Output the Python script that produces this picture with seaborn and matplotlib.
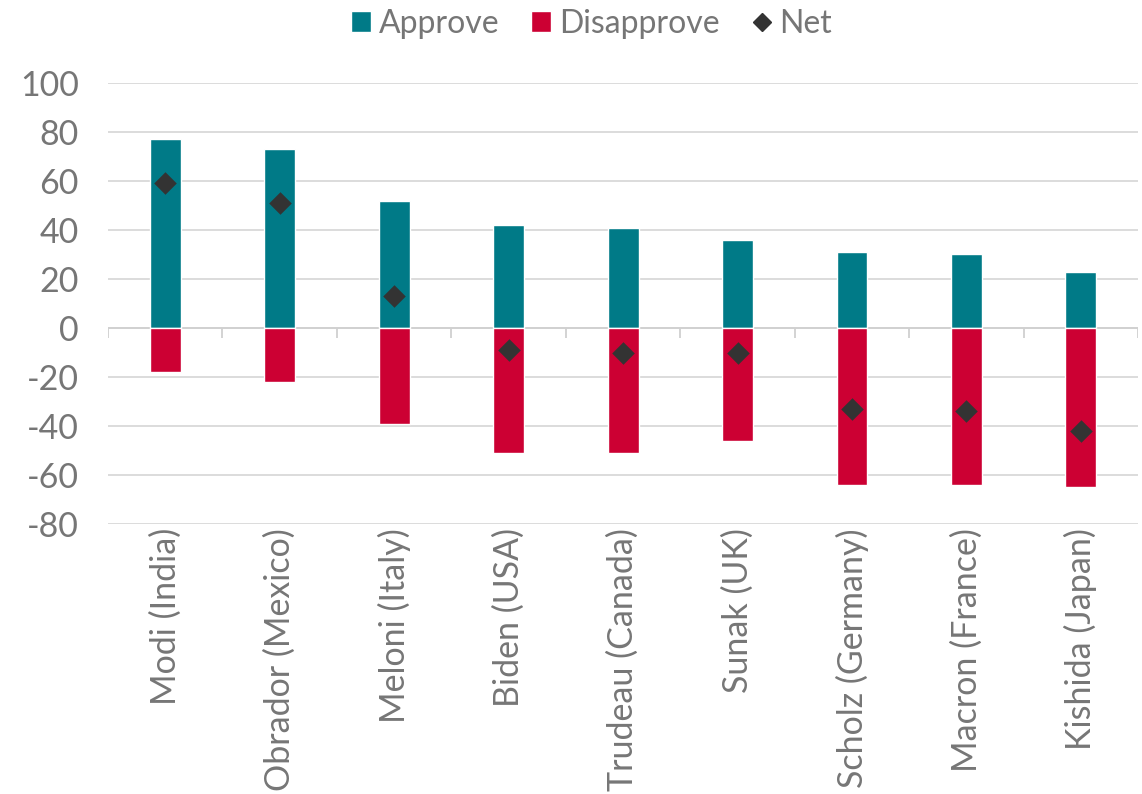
import numpy as np
import pandas as pd
import matplotlib
matplotlib.use('Agg')
import matplotlib.pyplot as plt
import seaborn as sns
from matplotlib.lines import Line2D
from matplotlib.patches import Patch

leaders = ['Modi (India)', 'Obrador (Mexico)', 'Meloni (Italy)', 'Biden (USA)',
           'Trudeau (Canada)', 'Sunak (UK)', 'Scholz (Germany)', 'Macron (France)',
           'Kishida (Japan)']
approve = [77, 73, 52, 42, 41, 36, 31, 30, 23]
disapprove = [-18, -22, -39, -51, -51, -46, -64, -64, -65]
net = [59, 51, 13, -9, -10, -10, -33, -34, -42]

teal = '#007A87'
red = '#CC0033'
grey_text = '#767676'

sns.set_style('white')
plt.rcParams['font.family'] = ['Lato', 'DejaVu Sans']
plt.rcParams['axes.unicode_minus'] = False

df = pd.DataFrame({'leader': leaders, 'approve': approve,
                   'disapprove': disapprove, 'net': net})

fig = plt.figure(figsize=(11.42, 7.94), dpi=100)
ax = fig.add_axes([0.0946, 0.34, 0.902, 0.5555])

sns.barplot(data=df, x='leader', y='approve', color=teal, width=0.27,
            saturation=1, ax=ax, zorder=3)
sns.barplot(data=df, x='leader', y='disapprove', color=red, width=0.27,
            saturation=1, ax=ax, zorder=3)
sns.stripplot(data=df, x='leader', y='net', color='#333333', marker='D',
              size=11.5, jitter=False, ax=ax, zorder=5, linewidth=0)

ax.set_ylim(-80, 100)
ax.set_xlim(-0.5, len(leaders) - 0.5)
ax.set_yticks(range(-80, 101, 20))
ax.grid(axis='y', color='#D9D9D9', linewidth=1.3, zorder=0)
ax.set_axisbelow(True)
for s in ax.spines.values():
    s.set_visible(False)

# zero axis line with category boundary ticks
ax.axhline(0, color='#D0D0D0', linewidth=1.3, zorder=2)
bounds = np.arange(len(leaders) + 1) - 0.5
ax.vlines(bounds, -4, 0, color='#D0D0D0', linewidth=1.3, zorder=2)

ax.set_xlabel('')
ax.set_ylabel('')
ax.tick_params(axis='x', length=0, pad=3, labelsize=24.5, labelcolor=grey_text,
               labelrotation=90)
ax.tick_params(axis='y', length=0, pad=21, labelsize=24.5, labelcolor=grey_text)

handles = [Patch(facecolor=teal, label='Approve'),
           Patch(facecolor=red, label='Disapprove'),
           Line2D([], [], marker='D', color='#333333', linestyle='none',
                  markersize=9, label='Net')]
fig.legend(handles=handles, loc='upper center', bbox_to_anchor=(0.518, 1.025),
           ncol=3, frameon=False, fontsize=23, labelcolor=grey_text,
           handlelength=0.62, handleheight=0.62, handletextpad=0.25,
           columnspacing=1.0)

fig.savefig('out.png', dpi=100)
